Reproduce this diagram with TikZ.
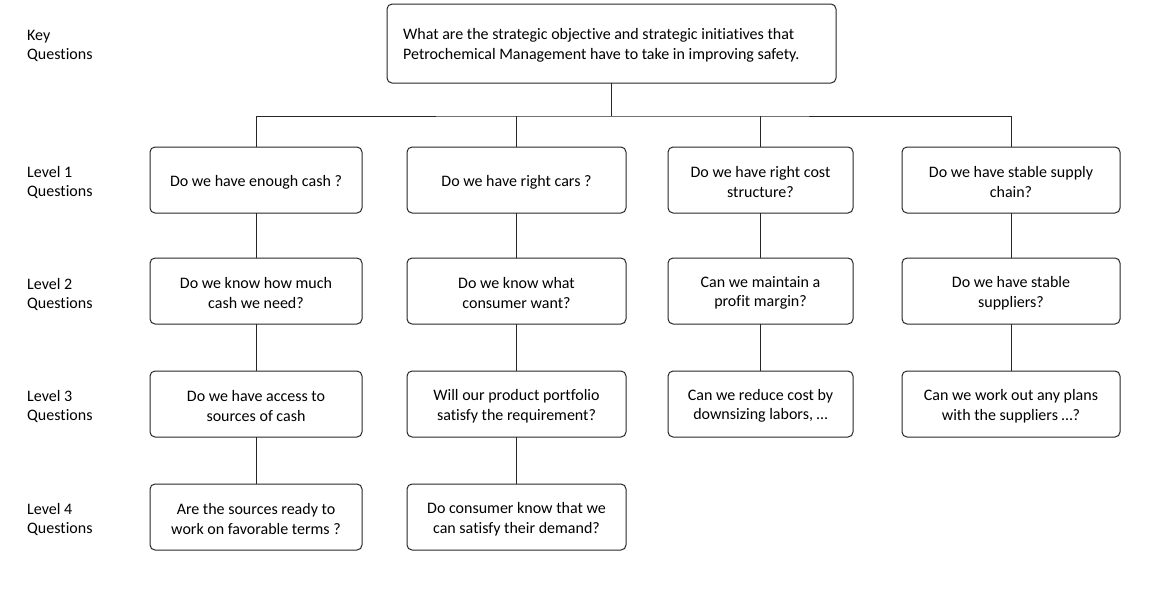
\documentclass[tikz,border=0pt]{standalone}
\usepackage{fontspec}
\setmainfont{Carlito}[Ligatures=NoCommon]
\begin{document}
\begin{tikzpicture}[x=1pt,y=-1pt,
  qbox/.style={draw=black!85, line width=1pt, rounded corners=5pt,
    inner sep=0pt, outer sep=0pt},
  qtxt/.style={align=center, inner sep=0pt, font=\fontsize{16}{19.5}\selectfont},
  cola/.style={qbox, minimum width=212pt, minimum height=66pt},
  colb/.style={qbox, minimum width=219pt, minimum height=66pt},
  colc/.style={qbox, minimum width=185pt, minimum height=66pt},
  cold/.style={qbox, minimum width=218pt, minimum height=66pt},
  lbl/.style={anchor=west, align=left, inner sep=0pt, font=\fontsize{16}{19}\selectfont},
  conn/.style={draw=black!85, line width=1pt}]
\useasboundingbox (0,0) rectangle (1155,606);
% key question
\node[qbox, minimum width=449pt, minimum height=79pt] (top) at (611.5,43.5) {};
\node[qtxt, align=left, anchor=west] (topt) at ([xshift=16pt,yshift=-2pt]top.west)
  {What are the strategic objective and strategic initiatives that\\Petrochemical Management have to take in improving safety.};
% left labels
\node[lbl] (k0) at (27,46) {Key\\Questions};
\node[lbl] (k1) at (27,182) {Level 1\\Questions};
\node[lbl] (k2) at (27,294) {Level 2\\Questions};
\node[lbl] (k3) at (27,406.5) {Level 3\\Questions};
\node[lbl] (k4) at (27,519.5) {Level 4\\Questions};
% level 1
\node[cola] (a1) at (256,180) {};
\node[colb] (b1) at (516.5,180) {};
\node[colc] (c1) at (760.5,180) {};
\node[cold] (d1) at (1011,180) {};
% level 2
\node[cola] (a2) at (256,291) {};
\node[colb] (b2) at (516.5,291) {};
\node[colc] (c2) at (760.5,291) {};
\node[cold] (d2) at (1011,291) {};
% level 3
\node[cola] (a3) at (256,404) {};
\node[colb] (b3) at (516.5,404) {};
\node[colc] (c3) at (760.5,404) {};
\node[cold] (d3) at (1011,404) {};
% level 4
\node[cola] (a4) at (256,517) {};
\node[colb] (b4) at (516.5,517) {};
% texts
\tikzset{tt/.style={qtxt, yshift=-2pt}}
\node[tt] (a1t) at (a1.center) {Do we have enough cash ?};
\node[tt] (b1t) at (b1.center) {Do we have right cars ?};
\node[tt] (c1t) at (c1.center) {Do we have right cost\\structure?};
\node[tt] (d1t) at (d1.center) {Do we have stable supply\\chain?};
\node[tt] (a2t) at (a2.center) {Do we know how much\\cash we need?};
\node[tt] (b2t) at (b2.center) {Do we know what\\consumer want?};
\node[tt] (c2t) at (c2.center) {Can we maintain a\\profit margin?};
\node[tt] (d2t) at (d2.center) {Do we have stable\\suppliers?};
\node[tt] (a3t) at (a3.center) {Do we have access to\\sources of cash};
\node[tt] (b3t) at (b3.center) {Will our product portfolio\\satisfy the requirement?};
\node[tt] (c3t) at (c3.center) {Can we reduce cost by\\downsizing labors, \ldots};
\node[tt] (d3t) at (d3.center) {Can we work out any plans\\with the suppliers \ldots?};
\node[tt] (a4t) at (a4.center) {Are the sources ready to\\work on favorable terms ?};
\node[tt] (b4t) at (b4.center) {Do consumer know that we\\can satisfy their demand?};
% connectors
\coordinate (j) at (611.5,116);
\draw[conn] (top.south) -- (j);
\draw[conn] (a1.north) |- (j) -| (d1.north);
\draw[conn] (b1.north) -- (b1.north |- j);
\draw[conn] (c1.north) -- (c1.north |- j);
\draw[conn] (a1) -- (a2) (a2) -- (a3) (a3) -- (a4);
\draw[conn] (b1) -- (b2) (b2) -- (b3) (b3) -- (b4);
\draw[conn] (c1) -- (c2) (c2) -- (c3);
\draw[conn] (d1) -- (d2) (d2) -- (d3);
\end{tikzpicture}
\end{document}
